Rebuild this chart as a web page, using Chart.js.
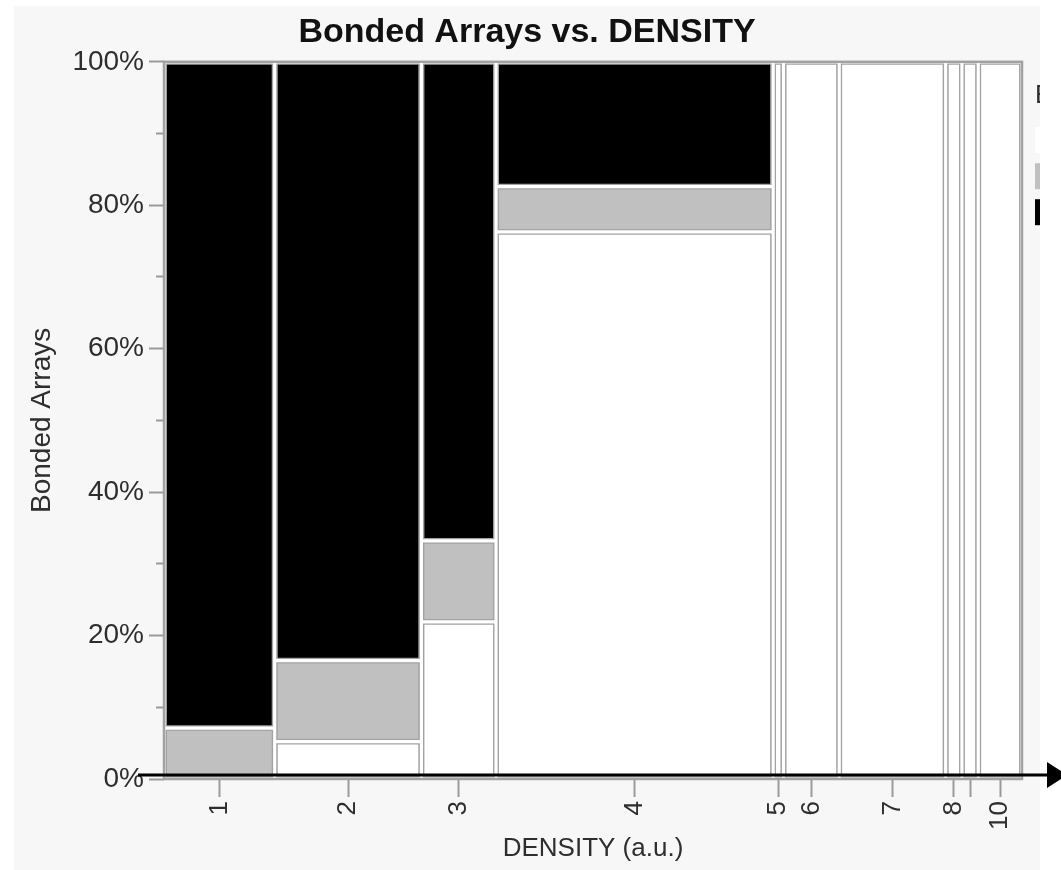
<!DOCTYPE html>
<html>
<head>
<meta charset="utf-8">
<title>Bonded Arrays vs. DENSITY</title>
<script src="https://cdn.jsdelivr.net/npm/chart.js@4.4.1/dist/chart.umd.min.js"></script>
<style>
  html, body { margin: 0; padding: 0; background: #fff; overflow: hidden; }
  #frame { position: absolute; left: 14px; top: 6px; width: 1026px; height: 864px; background: #f7f7f7; overflow: hidden; }
  #wrap { position: relative; width: 1026px; height: 864px; }
  #arrow { position: absolute; left: 0; top: 0; pointer-events: none; }
</style>
</head>
<body>
<div id="frame"><div id="wrap"><canvas id="mosaic"></canvas></div></div>
<canvas id="arrow" width="1061" height="870"></canvas>
<script>
// density columns and their share of all arrays (column width, %)
const densityLevels = ['1', '2', '3', '4', '5', '6', '7', '8', '9', '10'];
const densityShare = [12.9, 17.1, 8.7, 32.3, 1.2, 6.5, 12.4, 1.9, 1.9, 5.1];

// bonded arrays level, stacked bottom -> top inside each column (%)
const bondLevels = ['No', 'Partial', 'Yes'];
const pctNo      = [0, 5.2, 21.9, 76.3, 100, 100, 100, 100, 100, 100];
const pctPartial = [7.1, 11.3, 11.3, 6.3, 0, 0, 0, 0, 0, 0];
const pctYes     = [92.9, 83.5, 66.8, 17.4, 0, 0, 0, 0, 0, 0];

const levelPcts = [pctNo, pctPartial, pctYes];
const levelColors = ['#ffffff', '#c0c0c0', '#000000'];
const edgeColor = '#a2a2a2';
const textColor = '#2e2e2e';
const GAP_X = 0.33, GAP_Y = 0.4; // white gutter around each tile, in axis units

Chart.defaults.font.family = '"Liberation Sans", Arial, sans-serif';

// one filled rect + one outline per mosaic tile
const datasets = [];
const centers = [];
let x0 = 0;
for (let i = 0; i < densityLevels.length; i++) {
  const x1 = x0 + densityShare[i];
  centers.push((x0 + x1) / 2);
  let y0 = 0;
  for (let j = 0; j < bondLevels.length; j++) {
    const p = levelPcts[j][i];
    if (p <= 0) continue;
    const y1 = y0 + p;
    const l = x0 + GAP_X, r = x1 - GAP_X, b = y0 + GAP_Y, t = y1 - GAP_Y;
    datasets.push({
      data: [{x: l, y: t}, {x: r, y: t}],
      fill: {value: b},
      backgroundColor: levelColors[j],
      borderWidth: 0,
      pointRadius: 0
    });
    datasets.push({
      data: [{x: l, y: b}, {x: l, y: t}, {x: r, y: t}, {x: r, y: b}, {x: l, y: b}],
      fill: false,
      borderColor: edgeColor,
      borderWidth: 2.5,
      borderCapStyle: 'square',
      pointRadius: 0
    });
    y0 = y1;
  }
  x0 = x1;
}

const plotFrame = {
  id: 'plotFrame',
  beforeDatasetsDraw(chart) {
    const {ctx, chartArea: a} = chart;
    ctx.save();
    ctx.fillStyle = '#ffffff';
    ctx.fillRect(a.left, a.top, a.width, a.height);
    ctx.strokeStyle = edgeColor;
    ctx.lineWidth = 2.5;
    ctx.strokeRect(a.left, a.top, a.width, a.height);
    ctx.restore();
  }
};

// the black arrow drawn over the x axis (runs past the clipped graph)
const axisArrow = {
  id: 'axisArrow',
  afterDraw(chart) {
    const c = document.getElementById('arrow');
    const ctx = c.getContext('2d');
    const box = chart.canvas.getBoundingClientRect();
    const y = box.top + chart.scales.y.getPixelForValue(0) - 4;
    ctx.clearRect(0, 0, c.width, c.height);
    ctx.strokeStyle = '#000';
    ctx.fillStyle = '#000';
    ctx.lineWidth = 3;
    ctx.beginPath();
    ctx.moveTo(box.left + chart.chartArea.left - 26, y);
    ctx.lineTo(1050, y);
    ctx.stroke();
    ctx.beginPath();
    ctx.moveTo(1047, y - 13);
    ctx.lineTo(1067, y);
    ctx.lineTo(1047, y + 13);
    ctx.closePath();
    ctx.fill();
  }
};

new Chart(document.getElementById('mosaic'), {
  type: 'line',
  data: { datasets: datasets },
  options: {
    responsive: true,
    maintainAspectRatio: false,
    animation: false,
    events: [],
    layout: { padding: 0 },
    scales: {
      x: {
        type: 'linear',
        min: 0,
        max: 100,
        afterBuildTicks: axis => { axis.ticks = centers.map(v => ({ value: v })); },
        afterFit: axis => { axis.height = 91; },
        ticks: {
          autoSkip: false,
          minRotation: 90,
          maxRotation: 90,
          padding: 4,
          color: textColor,
          font: { size: 26 },
          // "9" is too narrow to get a label in the original
          callback: (v, i) => densityLevels[i] === '9' ? '' : densityLevels[i]
        },
        grid: { drawOnChartArea: false, tickLength: 18, tickColor: '#9a9a9a', tickWidth: 2 },
        border: { display: false },
        title: { display: true, text: 'DENSITY (a.u.)', color: textColor, font: { size: 26 }, padding: { top: 4, bottom: 6 } }
      },
      y: {
        min: 0,
        max: 100,
        afterFit: axis => { axis.width = 150; },
        ticks: {
          stepSize: 10,
          padding: 5,
          color: textColor,
          font: { size: 28 },
          callback: v => v % 20 === 0 ? v + '%' : ''
        },
        grid: {
          drawOnChartArea: false,
          tickLength: 15,
          tickColor: '#9a9a9a',
          tickWidth: 2,
          tickBorderDash: ctx => ctx.tick && ctx.tick.value % 20 ? [0, 7, 8, 100] : []
        },
        border: { display: false },
        title: { display: true, text: 'Bonded Arrays', color: textColor, font: { size: 28 }, padding: { top: 11, bottom: 0 } }
      },
      y2: {
        position: 'right',
        display: true,
        ticks: { display: false },
        grid: { display: false },
        border: { display: false },
        afterFit: axis => { axis.width = 13; }
      }
    },
    plugins: {
      title: {
        display: true,
        text: 'Bonded Arrays vs. DENSITY',
        color: '#111',
        font: { size: 34, weight: 'bold' },
        padding: { top: 6, bottom: 9 }
      },
      legend: {
        position: 'right',
        align: 'start',
        maxWidth: 5,
        title: { display: true, text: 'Bonded Arrays', position: 'start', color: textColor, font: { size: 26 }, padding: { top: 77, bottom: 8 } },
        labels: {
          boxWidth: 20,
          boxHeight: 26,
          padding: 0,
          color: textColor,
          font: { size: 36 },
          generateLabels: () => bondLevels.map((name, j) => ({
            text: name, fillStyle: levelColors[j], strokeStyle: levelColors[j], lineWidth: 0, hidden: false, datasetIndex: j
          }))
        }
      },
      tooltip: { enabled: false }
    }
  },
  plugins: [plotFrame, axisArrow]
});
</script>
</body>
</html>
